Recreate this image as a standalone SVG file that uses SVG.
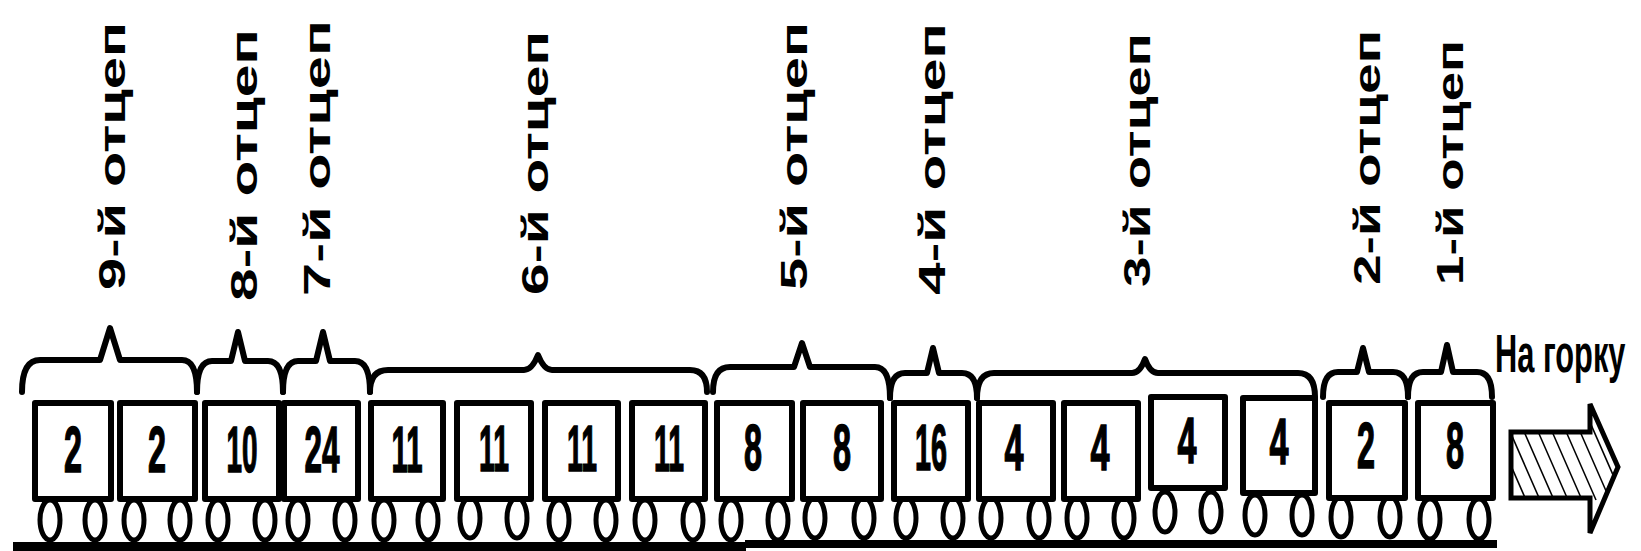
<svg xmlns="http://www.w3.org/2000/svg" width="1641" height="551" viewBox="0 0 1641 551">
  <style>
    .body { fill: #fff; stroke: #000; stroke-width: 6; stroke-linejoin: round; }
    .wheel { fill: #fff; stroke: #000; stroke-width: 5; }
    .num { font-family: "Liberation Sans", Arial, sans-serif; font-weight: bold; font-size: 64px; fill: #000; stroke: #000; stroke-width: 1.5; text-anchor: middle; }
    .lbl { font-family: "Liberation Sans", Arial, sans-serif; font-weight: bold; font-size: 37px; fill: #000; }
    .brace { fill: none; stroke: #000; stroke-width: 6; stroke-linejoin: round; stroke-linecap: round; }
    .title { font-family: "Liberation Sans", Arial, sans-serif; font-weight: bold; font-size: 54px; fill: #000; }
    .hatch { stroke: #000; stroke-width: 1.6; }
  </style>
  <defs>
    <clipPath id="arrowClip">
      <polygon points="1511,432 1590,432 1590,404 1618,467 1590,533 1590,498 1511,498"/>
    </clipPath>
  </defs>
  <rect width="1641" height="551" fill="#fff"/>

  <!-- track -->
  <g id="rail">
    <rect x="13" y="542" width="733" height="9" fill="#000"/>
    <rect x="745" y="540" width="752" height="8" fill="#000"/>
  </g>

  <!-- cut labels -->
  <g id="labels">
    <text class="lbl" transform="translate(125,290) rotate(-90)" textLength="268" lengthAdjust="spacingAndGlyphs">9-й отцеп</text>
    <text class="lbl" transform="translate(257,301) rotate(-90)" textLength="272" lengthAdjust="spacingAndGlyphs">8-й отцеп</text>
    <text class="lbl" transform="translate(330,296) rotate(-90)" textLength="276" lengthAdjust="spacingAndGlyphs">7-й отцеп</text>
    <text class="lbl" transform="translate(548,295) rotate(-90)" textLength="264" lengthAdjust="spacingAndGlyphs">6-й отцеп</text>
    <text class="lbl" transform="translate(807,290) rotate(-90)" textLength="268" lengthAdjust="spacingAndGlyphs">5-й отцеп</text>
    <text class="lbl" transform="translate(945,295) rotate(-90)" textLength="272" lengthAdjust="spacingAndGlyphs">4-й отцеп</text>
    <text class="lbl" transform="translate(1150,287) rotate(-90)" textLength="254" lengthAdjust="spacingAndGlyphs">3-й отцеп</text>
    <text class="lbl" transform="translate(1380,285) rotate(-90)" textLength="255" lengthAdjust="spacingAndGlyphs">2-й отцеп</text>
    <text class="lbl" transform="translate(1463,285) rotate(-90)" textLength="245" lengthAdjust="spacingAndGlyphs">1-й отцеп</text>
  </g>

  <!-- braces grouping wagons into cuts -->
  <g id="braces">
    <path class="brace" d="M22,392 Q22,360 40,360 L100,360 L110,328 L120,360 L182,360 Q197,360 197,392"/>
    <path class="brace" d="M197,392 Q197,361 212,361 L231,361 L238,332 L245,361 L268,361 Q283,361 283,392"/>
    <path class="brace" d="M283,392 Q283,361 298,361 L316,361 L323,332 L330,361 L355,361 Q370,361 370,392"/>
    <path class="brace" d="M370,392 Q370,370 388,370 L524,370 Q532,370 538,355 Q544,370 552,370 L690,370 Q707,370 707,392"/>
    <path class="brace" d="M713,392 Q713,367 730,367 L794,367 L802,343 L810,367 L875,367 Q890,367 890,398"/>
    <path class="brace" d="M890,398 Q890,373 905,373 L927,373 L933,348 L939,373 L962,373 Q977,373 977,398"/>
    <path class="brace" d="M977,398 Q977,373 994,373 L1132,373 Q1140,373 1145,359 Q1150,373 1158,373 L1298,373 Q1315,373 1315,397"/>
    <path class="brace" d="M1323,397 Q1323,372 1338,372 L1357,372 L1363,348 L1369,372 L1393,372 Q1408,372 1408,397"/>
    <path class="brace" d="M1408,397 Q1408,372 1423,372 L1441,372 L1447,345 L1453,372 L1477,372 Q1492,372 1492,397"/>
  </g>

  <!-- wagons: wheels first, then body, then number -->
  <g id="car1"><ellipse class="wheel" cx="50" cy="520" rx="10" ry="20"/><ellipse class="wheel" cx="95" cy="520" rx="10" ry="20"/><rect class="body" x="35" y="403" width="76" height="96"/><text class="num" x="73" y="472" textLength="18" lengthAdjust="spacingAndGlyphs">2</text></g>
  <g id="car2"><ellipse class="wheel" cx="134" cy="520" rx="10" ry="20"/><ellipse class="wheel" cx="180" cy="520" rx="10" ry="20"/><rect class="body" x="120" y="403" width="75" height="96"/><text class="num" x="157" y="472" textLength="18" lengthAdjust="spacingAndGlyphs">2</text></g>
  <g id="car3"><ellipse class="wheel" cx="218" cy="520" rx="10" ry="20"/><ellipse class="wheel" cx="265" cy="520" rx="10" ry="20"/><rect class="body" x="205" y="403" width="74" height="96"/><text class="num" x="242" y="472" textLength="31" lengthAdjust="spacingAndGlyphs">10</text></g>
  <g id="car4"><ellipse class="wheel" cx="298" cy="520" rx="10" ry="20"/><ellipse class="wheel" cx="345" cy="520" rx="10" ry="20"/><rect class="body" x="284" y="403" width="74" height="96"/><text class="num" x="322" y="472" textLength="35" lengthAdjust="spacingAndGlyphs">24</text></g>
  <g id="car5"><ellipse class="wheel" cx="384" cy="520" rx="10" ry="20"/><ellipse class="wheel" cx="428" cy="520" rx="10" ry="20"/><rect class="body" x="371" y="403" width="72" height="96"/><text class="num" x="407" y="472" textLength="31" lengthAdjust="spacingAndGlyphs">11</text></g>
  <g id="car6"><ellipse class="wheel" cx="470" cy="518" rx="10" ry="20"/><ellipse class="wheel" cx="517" cy="518" rx="10" ry="20"/><rect class="body" x="457" y="403" width="74" height="96"/><text class="num" x="494" y="471" textLength="30" lengthAdjust="spacingAndGlyphs">11</text></g>
  <g id="car7"><ellipse class="wheel" cx="559" cy="520" rx="10" ry="20"/><ellipse class="wheel" cx="606" cy="520" rx="10" ry="20"/><rect class="body" x="545" y="403" width="73" height="96"/><text class="num" x="582" y="471" textLength="30" lengthAdjust="spacingAndGlyphs">11</text></g>
  <g id="car8"><ellipse class="wheel" cx="645" cy="520" rx="10" ry="20"/><ellipse class="wheel" cx="693" cy="520" rx="10" ry="20"/><rect class="body" x="632" y="403" width="73" height="96"/><text class="num" x="669" y="471" textLength="30" lengthAdjust="spacingAndGlyphs">11</text></g>
  <g id="car9"><ellipse class="wheel" cx="731" cy="520" rx="10" ry="20"/><ellipse class="wheel" cx="778" cy="520" rx="10" ry="20"/><rect class="body" x="717" y="403" width="75" height="96"/><text class="num" x="753" y="470" textLength="18" lengthAdjust="spacingAndGlyphs">8</text></g>
  <g id="car10"><ellipse class="wheel" cx="815" cy="518" rx="10" ry="20"/><ellipse class="wheel" cx="864" cy="518" rx="10" ry="20"/><rect class="body" x="803" y="403" width="78" height="96"/><text class="num" x="842" y="470" textLength="18" lengthAdjust="spacingAndGlyphs">8</text></g>
  <g id="car11"><ellipse class="wheel" cx="906" cy="518" rx="10" ry="20"/><ellipse class="wheel" cx="953" cy="518" rx="10" ry="20"/><rect class="body" x="894" y="403" width="74" height="96"/><text class="num" x="931" y="470" textLength="32" lengthAdjust="spacingAndGlyphs">16</text></g>
  <g id="car12"><ellipse class="wheel" cx="991" cy="518" rx="10" ry="20"/><ellipse class="wheel" cx="1039" cy="518" rx="10" ry="20"/><rect class="body" x="979" y="403" width="74" height="96"/><text class="num" x="1014" y="470" textLength="19" lengthAdjust="spacingAndGlyphs">4</text></g>
  <g id="car13"><ellipse class="wheel" cx="1077" cy="518" rx="10" ry="20"/><ellipse class="wheel" cx="1124" cy="518" rx="10" ry="20"/><rect class="body" x="1064" y="403" width="74" height="96"/><text class="num" x="1100" y="470" textLength="19" lengthAdjust="spacingAndGlyphs">4</text></g>
  <g id="car14"><ellipse class="wheel" cx="1165" cy="512" rx="10" ry="20"/><ellipse class="wheel" cx="1211" cy="512" rx="10" ry="20"/><rect class="body" x="1151" y="397" width="74" height="91"/><text class="num" x="1187" y="463" textLength="19" lengthAdjust="spacingAndGlyphs">4</text></g>
  <g id="car15"><ellipse class="wheel" cx="1255" cy="515" rx="10" ry="20"/><ellipse class="wheel" cx="1302" cy="515" rx="10" ry="20"/><rect class="body" x="1243" y="398" width="72" height="95"/><text class="num" x="1279" y="464" textLength="19" lengthAdjust="spacingAndGlyphs">4</text></g>
  <g id="car16"><ellipse class="wheel" cx="1341" cy="517" rx="10" ry="20"/><ellipse class="wheel" cx="1390" cy="517" rx="10" ry="20"/><rect class="body" x="1329" y="403" width="76" height="95"/><text class="num" x="1366" y="468" textLength="18" lengthAdjust="spacingAndGlyphs">2</text></g>
  <g id="car17"><ellipse class="wheel" cx="1430" cy="519" rx="10" ry="20"/><ellipse class="wheel" cx="1479" cy="519" rx="10" ry="20"/><rect class="body" x="1418" y="403" width="75" height="95"/><text class="num" x="1455" y="468" textLength="18" lengthAdjust="spacingAndGlyphs">8</text></g>

  <!-- direction arrow -->
  <g id="direction">
    <text class="title" transform="translate(1495,372) scale(0.57,1)">На горку</text>
    <g clip-path="url(#arrowClip)">
      <line class="hatch" x1="1491" y1="420" x2="1526" y2="500"/>
      <line class="hatch" x1="1505" y1="420" x2="1540" y2="500"/>
      <line class="hatch" x1="1519" y1="420" x2="1554" y2="500"/>
      <line class="hatch" x1="1533" y1="420" x2="1568" y2="500"/>
      <line class="hatch" x1="1547" y1="420" x2="1582" y2="500"/>
      <line class="hatch" x1="1561" y1="420" x2="1596" y2="500"/>
      <line class="hatch" x1="1575" y1="420" x2="1610" y2="500"/>
      <line class="hatch" x1="1589" y1="420" x2="1624" y2="500"/>
    </g>
    <polygon points="1511,432 1590,432 1590,404 1618,467 1590,533 1590,498 1511,498" fill="none" stroke="#000" stroke-width="5" stroke-linejoin="miter"/>
  </g>
</svg>
